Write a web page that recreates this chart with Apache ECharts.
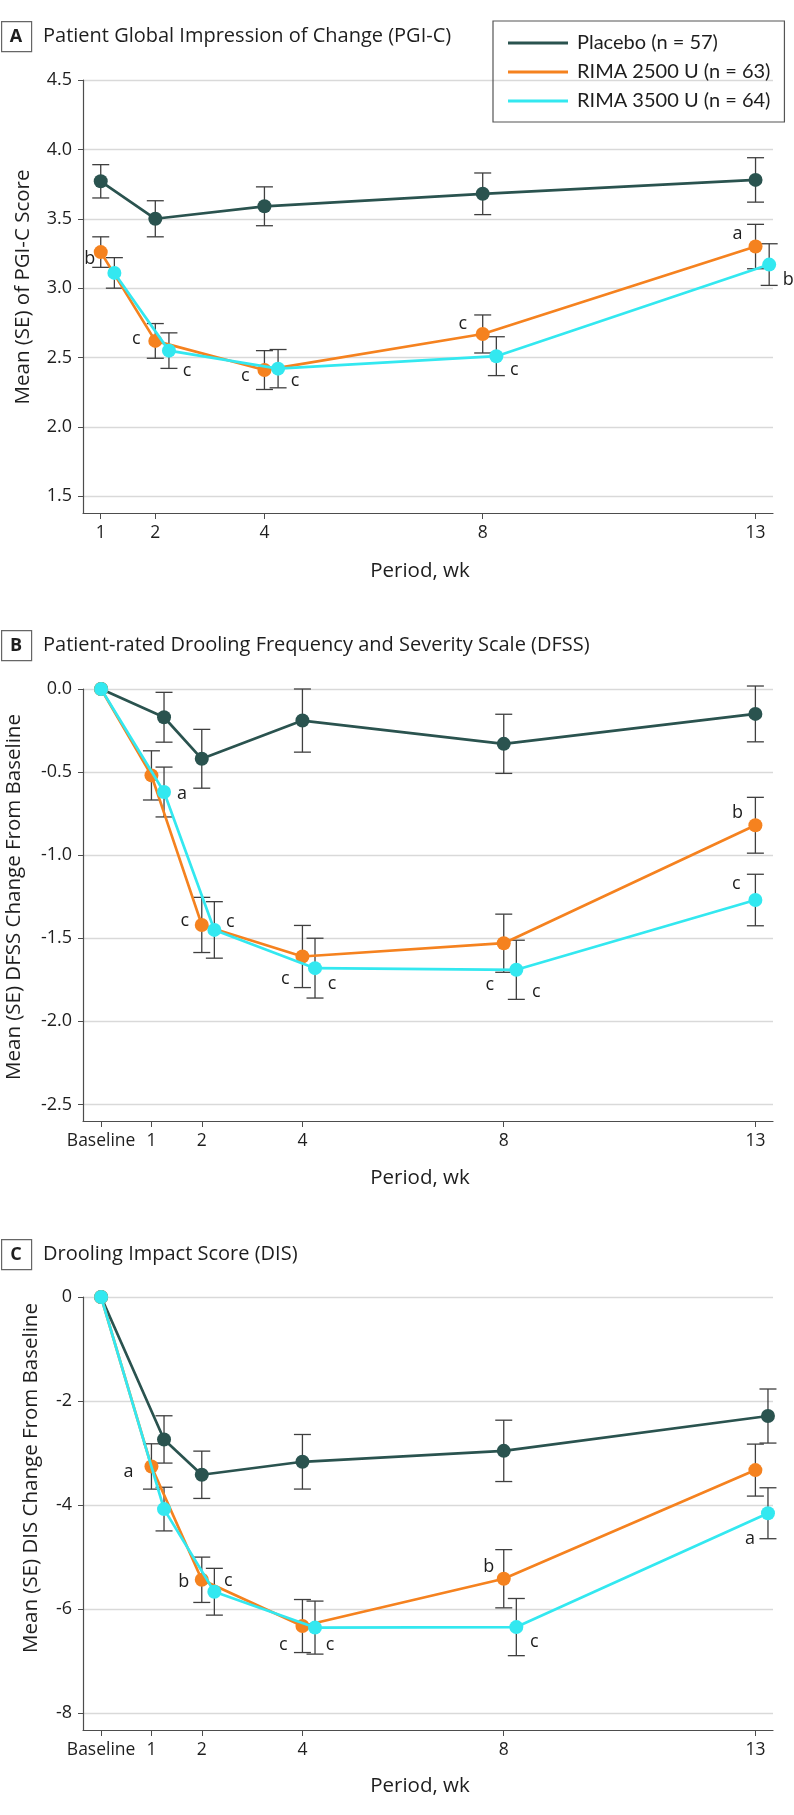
<!DOCTYPE html>
<html>
<head>
<meta charset="utf-8">
<script src="https://cdn.jsdelivr.net/npm/echarts@6/dist/echarts.min.js"></script>
<style>
html,body{margin:0;padding:0;background:#fff;}
#chart{width:794px;height:1815px;}
</style>
</head>
<body>
<div id="chart"></div>
<script>
// ---------- DATA ----------
const seriesNames = ['Placebo (n = 57)', 'RIMA 2500 U (n = 63)', 'RIMA 3500 U (n = 64)'];
const panelTitles = ['Patient Global Impression of Change (PGI-C)',
  'Patient-rated Drooling Frequency and Severity Scale (DFSS)',
  'Drooling Impact Score (DIS)'];
const panelLetters = ['A', 'B', 'C'];
const yTitles = ['Mean (SE) of PGI-C Score', 'Mean (SE) DFSS Change From Baseline', 'Mean (SE) DIS Change From Baseline'];
const xTitle = 'Period, wk';

// x tick values / labels
const xTicksA = [1, 2, 4, 8, 13];
const xTicksBC = [0, 1, 2, 4, 8, 13];
const xTickLabelsBC = ['Baseline', '1', '2', '4', '8', '13'];
const yTicksA = [1.5, 2.0, 2.5, 3.0, 3.5, 4.0, 4.5];
const yTicksB = [-2.5, -2.0, -1.5, -1.0, -0.5, 0.0];
const yTicksC = [-8, -6, -4, -2, 0];

// Panel A (PGI-C)
const aPlaceboX = [1, 2, 4, 8, 13];
const aPlaceboMean = [3.77, 3.50, 3.59, 3.68, 3.78];
const aPlaceboSE = [0.12, 0.13, 0.14, 0.15, 0.16];
const aR2500X = [1, 2, 4, 8, 13];
const aR2500Mean = [3.26, 2.62, 2.41, 2.67, 3.30];
const aR2500SE = [0.11, 0.125, 0.14, 0.137, 0.16];
const aR3500X = [1.25, 2.25, 4.25, 8.25, 13.25];
const aR3500Mean = [3.11, 2.55, 2.42, 2.51, 3.17];
const aR3500SE = [0.11, 0.128, 0.138, 0.14, 0.15];
const aR2500Sig = ['b', 'c', 'c', 'c', 'a'];
const aR3500Sig = ['', 'c', 'c', 'c', 'b'];

// Panel B (DFSS)
const bPlaceboX = [0, 1.25, 2, 4, 8, 13];
const bPlaceboMean = [0, -0.17, -0.42, -0.19, -0.33, -0.15];
const bPlaceboSE = [0, 0.15, 0.177, 0.19, 0.178, 0.168];
const bR2500X = [0, 1, 2, 4, 8, 13];
const bR2500Mean = [0, -0.52, -1.42, -1.61, -1.53, -0.82];
const bR2500SE = [0, 0.148, 0.166, 0.187, 0.175, 0.168];
const bR3500X = [0, 1.25, 2.25, 4.25, 8.25, 13];
const bR3500Mean = [0, -0.62, -1.45, -1.68, -1.69, -1.27];
const bR3500SE = [0, 0.15, 0.17, 0.18, 0.178, 0.155];
const bR2500Sig = ['', '', 'c', 'c', 'c', 'b'];
const bR3500Sig = ['', 'a', 'c', 'c', 'c', 'c'];

// Panel C (DIS)
const cPlaceboX = [0, 1.25, 2, 4, 8, 13.25];
const cPlaceboMean = [0, -2.74, -3.42, -3.17, -2.96, -2.29];
const cPlaceboSE = [0, 0.455, 0.455, 0.525, 0.59, 0.52];
const cR2500X = [0, 1, 2, 4, 8, 13];
const cR2500Mean = [0, -3.26, -5.44, -6.33, -5.42, -3.33];
const cR2500SE = [0, 0.436, 0.436, 0.51, 0.56, 0.5];
const cR3500X = [0, 1.25, 2.25, 4.25, 8.25, 13.25];
const cR3500Mean = [0, -4.08, -5.67, -6.36, -6.35, -4.16];
const cR3500SE = [0, 0.42, 0.45, 0.51, 0.55, 0.49];
const cR2500Sig = ['', 'a', 'b', 'c', 'b', ''];
const cR3500Sig = ['', '', 'c', 'c', 'c', 'a'];

// ---------- STYLE ----------
const FONT = '"Open Sans", "Noto Sans", sans-serif';
const LEG_FONT = 'Lato, "Open Sans", sans-serif';
const TXT = '#1e1e1e';
const COLORS = ['#2a534f', '#f5821f', '#33e8f0'];
const ERR_COLOR = '#3f3f3f';
const GRID_COLOR = '#d9d9d9';
const AXIS_COLOR = '#4d4d4d';
// letter label offsets (pixels, relative to marker centre)
const offA2500 = [[-11, 7], [-19, -2], [-19, 6], [-20, -10], [-18, -13]];
const offA3500 = [[0, 0], [18, 20], [17, 12], [18, 14], [19, 15]];
const offB2500 = [null, null, [-17, -4], [-17, 22], [-14, 42], [-18, -12]];
const offB3500 = [null, [18, 2], [16, -8], [17, 16], [20, 22], [-19, -16]];
const offC2500 = [null, [-23, 5], [-18, 2], [-19, 19], [-15, -12], null];
const offC3500 = [null, null, [14, -11], [15, 17], [18, 15], [-18, 26]];

const gridTops = [80, 689, 1297];
const gridHeights = [433, 432, 433];
const boxTops = [21, 630, 1239];          // panel letter boxes
const yTitlePos = [[23, 287], [14, 897], [31, 1478]];
const xTitleY = [571, 1178, 1786];

function lineSeries(gi, si, xs, ys, sig, offs) {
  const color = COLORS[si];
  return {
    type: 'line', name: seriesNames[si], xAxisIndex: gi, yAxisIndex: gi, z: 3 + si,
    data: xs.map((x, i) => {
      const item = { value: [x, ys[i]] };
      if (sig && sig[i]) {
        item.label = {
          show: true, formatter: sig[i], position: 'inside', offset: offs[i],
          color: TXT, fontSize: 18, fontFamily: FONT, align: 'center', verticalAlign: 'middle'
        };
      }
      return item;
    }),
    symbol: 'circle', symbolSize: 14, showSymbol: true, showAllSymbol: true,
    lineStyle: { color: color, width: 2.7 },
    itemStyle: { color: color },
    emphasis: { disabled: true },
    animation: false
  };
}

function errSeries(gi, xs, means, ses) {
  const data = [];
  xs.forEach((x, i) => { if (ses[i] > 0) data.push([x, means[i] - ses[i], means[i] + ses[i]]); });
  return {
    type: 'custom', xAxisIndex: gi, yAxisIndex: gi, z: 1, silent: true, animation: false,
    data: data,
    renderItem: function (params, api) {
      const x = api.value(0);
      const lo = api.coord([x, api.value(1)]);
      const hi = api.coord([x, api.value(2)]);
      const w = 8.5;
      const st = { stroke: ERR_COLOR, lineWidth: 1.3 };
      return {
        type: 'group', children: [
          { type: 'line', shape: { x1: lo[0], y1: lo[1], x2: hi[0], y2: hi[1] }, style: st },
          { type: 'line', shape: { x1: lo[0] - w, y1: lo[1], x2: lo[0] + w, y2: lo[1] }, style: st },
          { type: 'line', shape: { x1: hi[0] - w, y1: hi[1], x2: hi[0] + w, y2: hi[1] }, style: st }
        ]
      };
    }
  };
}

function xAxis(gi, min, max, ticks, fmt) {
  return {
    type: 'value', gridIndex: gi, min: min, max: max,
    axisLine: { show: true, onZero: false, lineStyle: { color: AXIS_COLOR, width: 1.2 } },
    axisTick: { show: true, customValues: ticks, length: 6, lineStyle: { color: AXIS_COLOR } },
    axisLabel: { customValues: ticks, formatter: fmt, fontSize: 17.5, color: TXT, fontFamily: FONT, margin: 11 },
    splitLine: { show: false }
  };
}

function yAxis(gi, min, max, ticks, fmt) {
  return {
    type: 'value', gridIndex: gi, min: min, max: max,
    axisLine: { show: true, onZero: false, lineStyle: { color: AXIS_COLOR, width: 1.2 } },
    axisTick: { show: true, customValues: ticks, length: 5, lineStyle: { color: AXIS_COLOR } },
    axisLabel: { customValues: ticks, formatter: fmt, fontSize: 18, color: TXT, fontFamily: FONT, margin: 11 },
    splitLine: { show: true, lineStyle: { color: GRID_COLOR, width: 1.3 } }
  };
}

const fmt1 = v => v.toFixed(1);
const fmtInt = v => String(Math.round(v));
const fmtWeek = v => String(v);
const fmtWeekBC = v => { const i = xTicksBC.indexOf(v); return i >= 0 ? xTickLabelsBC[i] : ''; };

const graphics = [];
panelLetters.forEach((L, i) => {
  const t = boxTops[i];
  graphics.push({ type: 'rect', left: 1, top: t, shape: { width: 30, height: 30 },
    style: { fill: '#fff', stroke: '#666', lineWidth: 1.2 } });
  graphics.push({ type: 'text', x: 16, y: t + 15.5,
    style: { text: L, fontSize: 18, fontWeight: 'bold', fill: TXT, fontFamily: FONT, align: 'center', verticalAlign: 'middle' } });
  graphics.push({ type: 'text', x: 43, y: t + 15,
    style: { text: panelTitles[i], fontSize: 20, fill: TXT, fontFamily: FONT, align: 'left', verticalAlign: 'middle' } });
  graphics.push({ type: 'text', x: yTitlePos[i][0], y: yTitlePos[i][1], rotation: Math.PI / 2,
    style: { text: yTitles[i], fontSize: 20.5, fill: TXT, fontFamily: FONT, align: 'center', verticalAlign: 'middle' } });
  graphics.push({ type: 'text', x: 420, y: xTitleY[i],
    style: { text: xTitle, fontSize: 20.5, fill: TXT, fontFamily: FONT, align: 'center', verticalAlign: 'middle' } });
});

const option = {
  backgroundColor: '#ffffff',
  animation: false,
  graphic: graphics,
  legend: {
    data: seriesNames, orient: 'vertical', left: 493, top: 21,
    padding: [12, 14, 11, 15], itemWidth: 60, itemHeight: 3, itemGap: 9, icon: 'rect',
    borderColor: '#555', borderWidth: 1.2,
    textStyle: { fontSize: 20, color: TXT, fontFamily: LEG_FONT, lineHeight: 19, padding: [0, 0, 0, 4] },
    selectedMode: false
  },
  grid: gridTops.map((t, i) => ({ left: 83, right: 21, top: t, height: gridHeights[i] })),
  xAxis: [
    xAxis(0, 0.675, 13.32, xTicksA, fmtWeek),
    xAxis(1, -0.36, 13.35, xTicksBC, fmtWeekBC),
    xAxis(2, -0.36, 13.35, xTicksBC, fmtWeekBC)
  ],
  yAxis: [
    yAxis(0, 1.38, 4.5, yTicksA, fmt1),
    yAxis(1, -2.6, 0, yTicksB, fmt1),
    yAxis(2, -8.33, 0, yTicksC, fmtInt)
  ],
  series: [
    errSeries(0, aPlaceboX, aPlaceboMean, aPlaceboSE),
    errSeries(0, aR2500X, aR2500Mean, aR2500SE),
    errSeries(0, aR3500X, aR3500Mean, aR3500SE),
    lineSeries(0, 0, aPlaceboX, aPlaceboMean, null, null),
    lineSeries(0, 1, aR2500X, aR2500Mean, aR2500Sig, offA2500),
    lineSeries(0, 2, aR3500X, aR3500Mean, aR3500Sig, offA3500),

    errSeries(1, bPlaceboX, bPlaceboMean, bPlaceboSE),
    errSeries(1, bR2500X, bR2500Mean, bR2500SE),
    errSeries(1, bR3500X, bR3500Mean, bR3500SE),
    lineSeries(1, 0, bPlaceboX, bPlaceboMean, null, null),
    lineSeries(1, 1, bR2500X, bR2500Mean, bR2500Sig, offB2500),
    lineSeries(1, 2, bR3500X, bR3500Mean, bR3500Sig, offB3500),

    errSeries(2, cPlaceboX, cPlaceboMean, cPlaceboSE),
    errSeries(2, cR2500X, cR2500Mean, cR2500SE),
    errSeries(2, cR3500X, cR3500Mean, cR3500SE),
    lineSeries(2, 0, cPlaceboX, cPlaceboMean, null, null),
    lineSeries(2, 1, cR2500X, cR2500Mean, cR2500Sig, offC2500),
    lineSeries(2, 2, cR3500X, cR3500Mean, cR3500Sig, offC3500)
  ]
};

const chart = echarts.init(document.getElementById('chart'), null, { renderer: 'canvas' });
chart.setOption(option);
</script>
</body>
</html>
